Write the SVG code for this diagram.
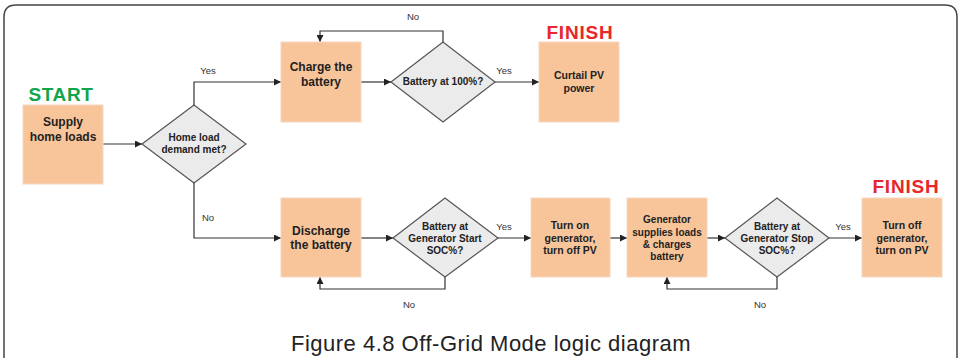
<svg xmlns="http://www.w3.org/2000/svg" width="960" height="358" viewBox="0 0 960 358">
<defs>
<marker id="arr" viewBox="0 0 10 10" refX="10" refY="5" markerWidth="7" markerHeight="7" markerUnits="userSpaceOnUse" orient="auto">
<path d="M0,0 L10,5 L0,10 z" fill="#222"/>
</marker>
<style>
.box{fill:#f8c59b;stroke:#f3d8c0;stroke-width:1}
.dia{fill:#ebebeb;stroke:#555;stroke-width:1.2}
.t{font-family:"Liberation Sans",Arial,sans-serif;font-weight:bold;fill:#222;text-anchor:middle}
.tb{font-size:12px}
.tm{font-size:10.5px}
.td{font-size:10px}
.lbl{font-family:"Liberation Sans",Arial,sans-serif;font-size:9.5px;fill:#333;text-anchor:middle}
.con{fill:none;stroke:#333;stroke-width:1.2;marker-end:url(#arr)}
.start{font-family:"Liberation Sans",Arial,sans-serif;font-weight:bold;font-size:19px;letter-spacing:0.6px;fill:#10a54a;text-anchor:middle}
.finish{font-family:"Liberation Sans",Arial,sans-serif;font-weight:bold;font-size:19px;letter-spacing:0.8px;fill:#e8262b;text-anchor:middle}
</style>
</defs>
<rect width="960" height="358" fill="#fff"/>
<path d="M4,358 L4,17 Q4,5 16,5 L945,5 Q957,5 957,17 L957,358" fill="none" stroke="#444" stroke-width="1.5"/>

<g id="connectors">
<path class="con" d="M103,144 L142,144"/>
<path class="con" d="M194,105 L194,82 L281,82"/>
<path class="con" d="M361,82 L391,82"/>
<path class="con" d="M443,42 L443,31 L320,31 L320,42"/>
<path class="con" d="M495,82 L539,82"/>
<path class="con" d="M194,183 L194,238 L281,238"/>
<path class="con" d="M361,238 L393,238"/>
<path class="con" d="M445,277 L445,289 L320,289 L320,277"/>
<path class="con" d="M498,238 L531,238"/>
<path class="con" d="M610,238 L627,238"/>
<path class="con" d="M707,238 L725,238"/>
<path class="con" d="M777,277 L777,289 L667,289 L667,277"/>
<path class="con" d="M829,238 L862,238"/>
<text class="lbl" x="208" y="74">Yes</text>
<text class="lbl" x="413" y="20">No</text>
<text class="lbl" x="504" y="74">Yes</text>
<text class="lbl" x="208" y="221">No</text>
<text class="lbl" x="409" y="308">No</text>
<text class="lbl" x="504" y="230">Yes</text>
<text class="lbl" x="760" y="308">No</text>
<text class="lbl" x="843" y="230">Yes</text>
</g>

<g id="start-label"><text class="start" x="61" y="101">START</text></g>
<g id="supply">
<rect class="box" x="23" y="105" width="80" height="79"/>
<text class="t tb" x="63" y="126">Supply</text>
<text class="t tb" x="63" y="141">home loads</text>
</g>
<g id="home-load">
<polygon class="dia" points="142,144 194,105 246,144 194,183"/>
<text class="t td" x="194" y="141">Home load</text>
<text class="t td" x="194" y="153">demand met?</text>
</g>
<g id="charge">
<rect class="box" x="281" y="42" width="80" height="80"/>
<text class="t tb" x="321" y="71">Charge the</text>
<text class="t tb" x="321" y="86">battery</text>
</g>
<g id="batt100">
<polygon class="dia" points="391,82 443,42 495,82 443,122"/>
<text class="t td" x="443" y="85">Battery at 100%?</text>
</g>
<g id="finish1-label"><text class="finish" x="580" y="39">FINISH</text></g>
<g id="curtail">
<rect class="box" x="539" y="42" width="80" height="80"/>
<text class="t tm" x="579" y="79">Curtail PV</text>
<text class="t tm" x="579" y="92">power</text>
</g>
<g id="discharge">
<rect class="box" x="281" y="198" width="80" height="79"/>
<text class="t tb" x="321" y="235">Discharge</text>
<text class="t tb" x="321" y="249">the battery</text>
</g>
<g id="gen-start">
<polygon class="dia" points="393,238 445,198 498,238 445,277"/>
<text class="t td" x="445" y="230">Battery at</text>
<text class="t td" x="445" y="242">Generator Start</text>
<text class="t td" x="445" y="254">SOC%?</text>
</g>
<g id="turn-on">
<rect class="box" x="531" y="198" width="79" height="79"/>
<text class="t tm" x="570" y="229">Turn on</text>
<text class="t tm" x="570" y="242">generator,</text>
<text class="t tm" x="570" y="254">turn off PV</text>
</g>
<g id="gen-supplies">
<rect class="box" x="627" y="198" width="80" height="79"/>
<text class="t td" x="667" y="223">Generator</text>
<text class="t td" x="667" y="236">supplies loads</text>
<text class="t td" x="667" y="248">&amp; charges</text>
<text class="t td" x="667" y="260">battery</text>
</g>
<g id="gen-stop">
<polygon class="dia" points="725,238 777,198 829,238 777,277"/>
<text class="t td" x="777" y="230">Battery at</text>
<text class="t td" x="777" y="242">Generator Stop</text>
<text class="t td" x="777" y="254">SOC%?</text>
</g>
<g id="finish2-label"><text class="finish" x="906" y="193">FINISH</text></g>
<g id="turn-off">
<rect class="box" x="862" y="198" width="80" height="79"/>
<text class="t tm" x="902" y="229">Turn off</text>
<text class="t tm" x="902" y="242">generator,</text>
<text class="t tm" x="902" y="254">turn on PV</text>
</g>
<g id="caption">
<text x="491" y="351" font-family="'Liberation Sans',Arial,sans-serif" font-size="22" fill="#222" text-anchor="middle" letter-spacing="0.5">Figure 4.8 Off-Grid Mode logic diagram</text>
</g>
</svg>
